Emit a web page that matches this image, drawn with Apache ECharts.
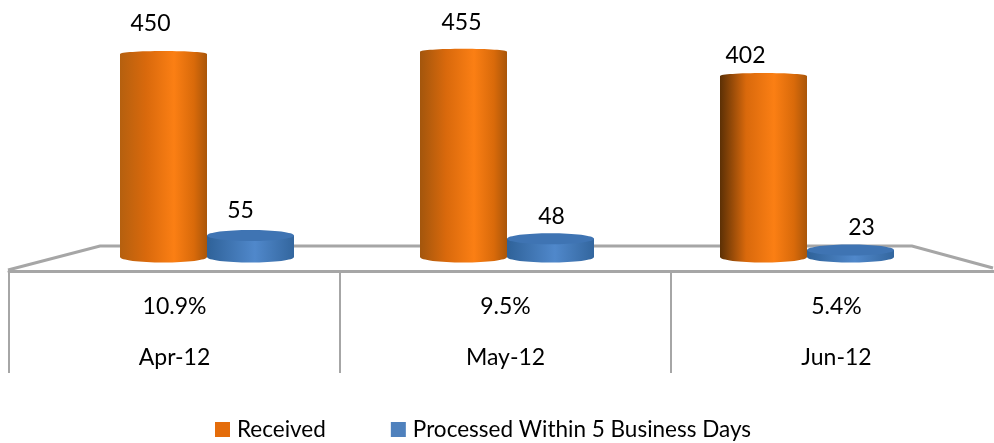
<!DOCTYPE html>
<html>
<head>
<meta charset="utf-8">
<style>
  html, body { margin: 0; padding: 0; background: #fff; }
  #chart { width: 994px; height: 443px; }
</style>
<script src="https://cdn.jsdelivr.net/npm/echarts@6/dist/echarts.min.js"></script>
</head>
<body>
<div id="chart"></div>
<script>
const categories = ['Apr-12', 'May-12', 'Jun-12']
const received = [450, 455, 402]
const processed = [55, 48, 23]
const rates = ['10.9%', '9.5%', '5.4%']

const fontFamily = 'Lato, "Open Sans", sans-serif'
// left edge of the orange cylinders gets darker towards the right of the chart
const orangeShade = ['#b5600f', '#a3560d', '#5c3005']
// the value labels do not sit centred on the cylinders in the 3d original
const receivedLabelShift = [[-13, -1], [-2, 0], [-18, 9]]
const processedLabelShift = [[-10, -2], [1, 1], [11, 0]]

const orangeGradient = (i) => new echarts.graphic.LinearGradient(0, 0, 1, 0, [
  { offset: 0, color: orangeShade[i] },
  { offset: 0.3, color: '#d9690c' },
  { offset: 0.62, color: '#fb7f14' },
  { offset: 0.85, color: '#d96a0a' },
  { offset: 1, color: '#a9560a' }
])
const blueGradient = () => new echarts.graphic.LinearGradient(0, 0, 1, 0, [
  { offset: 0, color: '#2f6299' },
  { offset: 0.55, color: '#5088cb' },
  { offset: 1, color: '#33669e' }
])

// cylinder: body + bottom and top ellipses, with the value above it
const cylinder = (side, fill, capColor, topRy, labelGap, labelShift) => (params, api) => {
  const i = api.value(0)
  const value = api.value(1)
  const top = api.coord([i, value])
  const base = api.coord([i, 8])
  const band = api.size([1, 0])[0]
  const rx = band * 0.145
  const cx = top[0] + side * band * 0.145
  const style = { fill: fill(i) }
  return {
    type: 'group',
    children: [
      { type: 'rect', shape: { x: cx - rx, y: top[1], width: rx * 2, height: base[1] - top[1] }, style },
      { type: 'ellipse', shape: { cx, cy: base[1], rx, ry: 5.5 }, style },
      { type: 'ellipse', shape: { cx, cy: top[1], rx, ry: topRy }, style: capColor ? { fill: capColor } : style },
      {
        type: 'text',
        style: {
          text: String(value),
          x: cx + labelShift[i][0],
          y: top[1] - labelGap + labelShift[i][1],
          align: 'center',
          verticalAlign: 'middle',
          fill: '#000',
          font: '23px ' + fontFamily
        }
      }
    ]
  }
}

const chart = echarts.init(document.getElementById('chart'), null, { renderer: 'canvas' })

chart.setOption({
  backgroundColor: '#fff',
  animation: false,
  textStyle: { fontFamily },
  grid: [
    { left: 57, width: 900, top: 31, height: 226, outerBoundsMode: 'none' },
    // runs past the right edge of the page, the last cell has no closing line in the picture
    { left: 9, width: 993, top: 270, height: 1, outerBoundsMode: 'none' }
  ],
  xAxis: [
    { type: 'category', gridIndex: 0, data: categories, show: false },
    {
      type: 'category',
      gridIndex: 1,
      data: categories.map((c, i) => rates[i] + '\n' + c),
      axisLine: { lineStyle: { color: '#a6a6a6', width: 3 } },
      axisTick: { show: true, alignWithLabel: false, length: 102, lineStyle: { color: '#a6a6a6', width: 2 } },
      axisLabel: {
        interval: 0,
        margin: 10,
        color: '#000',
        fontSize: 23,
        lineHeight: 51,
        fontFamily
      }
    }
  ],
  yAxis: [
    { type: 'value', gridIndex: 0, min: 8, max: 500, show: false },
    { type: 'value', gridIndex: 1, show: false }
  ],
  legend: {
    left: 210,
    top: 413,
    icon: 'rect',
    itemWidth: 15,
    itemHeight: 15,
    itemGap: 65,
    textStyle: { color: '#000', fontSize: 22.5, fontFamily, padding: [0, 0, 0, 2] },
    data: ['Received', 'Processed Within 5 Business Days']
  },
  graphic: [{
    type: 'polyline',
    silent: true,
    z: 0,
    shape: { points: [[8, 270], [100, 246], [912, 246], [993, 268]] },
    style: { stroke: '#a6a6a6', lineWidth: 3, fill: null }
  }],
  series: [
    {
      name: 'Received',
      type: 'custom',
      xAxisIndex: 0,
      yAxisIndex: 0,
      z: 3,
      itemStyle: { color: '#e46c0a' },
      encode: { x: 0, y: 1 },
      data: received.map((v, i) => [i, v]),
      renderItem: cylinder(-1, orangeGradient, null, 3, 29, receivedLabelShift)
    },
    {
      name: 'Processed Within 5 Business Days',
      type: 'custom',
      xAxisIndex: 0,
      yAxisIndex: 0,
      z: 4,
      itemStyle: { color: '#4f81bd' },
      encode: { x: 0, y: 1 },
      data: processed.map((v, i) => [i, v]),
      renderItem: cylinder(1, blueGradient, '#3f74b3', 5.5, 23, processedLabelShift)
    }
  ]
})
</script>
</body>
</html>
